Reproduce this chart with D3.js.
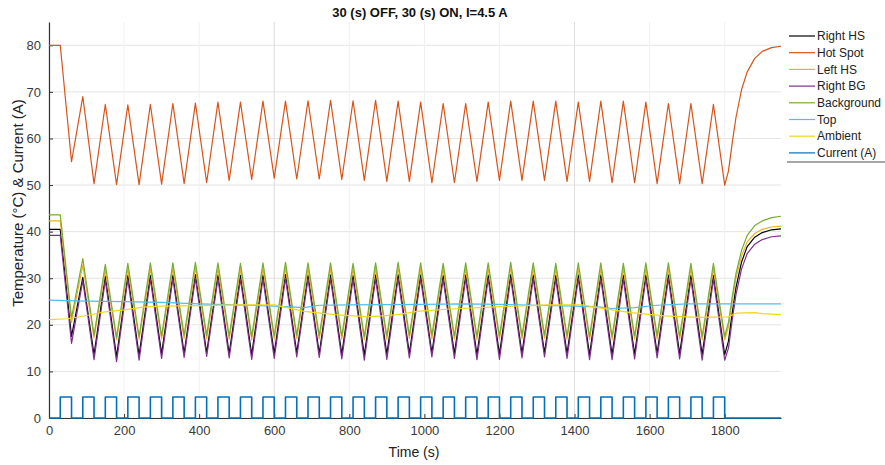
<!DOCTYPE html>
<html>
<head>
<meta charset="utf-8">
<script src="https://cdn.jsdelivr.net/npm/d3@7"></script>
<style>
  body { margin: 0; background: #fff; }
  text { font-family: "Liberation Sans", Arial, sans-serif; }
</style>
</head>
<body>
<div id="chart"></div>
<script>
// legend order / colours
var seriesNames = ["Right HS", "Hot Spot", "Left HS", "Right BG", "Background", "Top", "Ambient", "Current (A)"];
var seriesColors = ["#000000", "#D95319", "#EDB120", "#7E2F8E", "#77AC30", "#4DBEEE", "#EED81C", "#0072BD"];

// cycle times (s): troughs at the end of each ON phase, peaks at the end of each OFF phase
var troughTime = [60,120,180,240,300,360,420,480,540,600,660,720,780,840,900,960,1020,1080,1140,1200,1260,1320,1380,1440,1500,1560,1620,1680,1740,1800];
var peakTime = [90,150,210,270,330,390,450,510,570,630,690,750,810,870,930,990,1050,1110,1170,1230,1290,1350,1410,1470,1530,1590,1650,1710,1770];
var tailTime = [1810,1820,1830,1845,1860,1880,1900,1925,1950];

// start values (held until t=30)
var startVal = {"Right HS": 40.5, "Hot Spot": 80, "Left HS": 42.3, "Right BG": 39.2, "Background": 43.6};

var hotSpotTroughs = [55.0,50.3,50.1,50.1,50.2,50.3,50.5,51.0,51.2,51.5,51.3,51.3,51.2,51.0,50.8,50.8,50.5,50.5,50.8,51.0,51.0,51.0,50.8,50.8,50.5,50.5,50.3,50.3,50.3,50.0];
var hotSpotPeaks = [69.0,67.3,67.2,67.3,67.5,67.6,67.8,67.8,68.0,68.0,68.1,68.2,68.1,68.2,68.0,67.8,67.5,67.5,67.8,68.0,68.0,68.0,67.8,68.0,68.0,67.8,67.5,67.5,67.3];
var hotSpotTail = [53.0,59.0,64.5,70.5,74.3,77.2,78.7,79.5,79.8];

var backgroundTroughs = [21.5,17.8,17.3,17.5,17.6,17.8,17.8,17.6,17.5,17.6,17.8,17.7,17.6,17.5,17.6,17.8,17.8,17.6,17.5,17.6,17.7,17.8,17.6,17.5,17.5,17.6,17.7,17.6,17.5,17.5];
var backgroundPeaks = [34.2,33.0,33.2,33.3,33.3,33.4,33.3,33.2,33.3,33.4,33.3,33.3,33.2,33.3,33.4,33.3,33.2,33.3,33.3,33.4,33.3,33.2,33.3,33.3,33.2,33.3,33.3,33.2,33.2];
var backgroundTail = [20.5,26.0,31.0,36.0,39.2,41.3,42.3,43.0,43.3];

var leftHSTroughs = [20.5,17.2,16.8,16.9,17.0,17.1,17.0,16.9,16.8,17.0,17.1,17.0,16.9,16.8,16.9,17.1,17.0,16.9,16.8,16.9,17.0,17.1,16.9,16.8,16.8,16.9,17.0,16.9,16.8,16.8];
var leftHSPeaks = [32.8,31.8,32.0,32.1,32.1,32.2,32.1,32.0,32.1,32.2,32.1,32.1,32.0,32.1,32.2,32.1,32.0,32.1,32.1,32.2,32.1,32.0,32.1,32.1,32.0,32.1,32.1,32.0,32.0];
var leftHSTail = [19.5,25.0,30.0,34.8,37.8,39.6,40.5,41.0,41.2];

var rightHSTroughs = [17.5,13.6,13.2,13.5,13.8,13.9,14.0,13.8,13.6,13.8,14.0,13.9,13.7,13.5,13.7,13.9,14.0,13.8,13.6,13.7,13.9,14.0,13.8,13.6,13.6,13.7,13.9,13.8,13.6,13.6];
var rightHSPeaks = [30.2,30.4,30.6,30.6,30.7,30.8,30.7,30.6,30.7,30.8,30.7,30.7,30.6,30.7,30.8,30.7,30.6,30.7,30.7,30.8,30.7,30.6,30.7,30.7,30.6,30.7,30.7,30.6,30.6];
var rightHSTail = [16.5,22.5,28.0,33.5,36.8,38.8,39.8,40.4,40.6];

var rightBGTroughs = [16.0,12.5,12.1,12.4,12.8,13.0,13.2,12.9,12.6,12.8,13.1,13.0,12.7,12.4,12.6,12.9,13.1,12.8,12.5,12.6,12.9,13.1,12.8,12.5,12.5,12.7,12.9,12.7,12.4,12.4];
var rightBGPeaks = [29.5,29.6,29.8,29.8,29.9,30.0,29.9,29.8,29.9,30.0,29.9,29.9,29.8,29.9,30.0,29.9,29.8,29.9,29.9,30.0,29.9,29.8,29.9,29.9,29.8,29.9,29.9,29.8,29.8];
var rightBGTail = [15.0,21.0,26.5,32.0,35.3,37.3,38.3,38.9,39.1];

// slow channels, [time, value]
var topPoints = [[0,25.3],[100,25.1],[200,25.0],[300,24.8],[400,24.5],[500,24.3],[600,24.0],[680,23.7],[720,24.2],[800,24.3],[1000,24.4],[1100,24.5],[1200,24.4],[1300,24.2],[1400,24.0],[1470,23.8],[1500,23.5],[1560,23.7],[1620,24.2],[1700,24.5],[1800,24.5],[1950,24.5]];
var ambientPoints = [[0,21.1],[50,21.3],[100,22.0],[150,22.8],[200,23.2],[250,23.8],[300,24.0],[400,24.1],[500,24.3],[600,24.3],[640,23.6],[680,22.9],[760,22.2],[850,21.7],[930,22.2],[980,22.9],[1070,23.4],[1200,23.9],[1330,24.3],[1420,24.3],[1470,23.6],[1550,22.6],[1640,21.9],[1730,21.6],[1810,21.7],[1830,22.5],[1880,22.6],[1900,22.4],[1950,22.2]];

// current pulses: ON from start to start+30 s
var pulseStart = [30,90,150,210,270,330,390,450,510,570,630,690,750,810,870,930,990,1050,1110,1170,1230,1290,1350,1410,1470,1530,1590,1650,1710,1770];
var pulseLength = 30;
var currentOn = 4.5;
var currentEnd = 1950;

var xTicks = [0,200,400,600,800,1000,1200,1400,1600,1800];
var yTicks = [0,10,20,30,40,50,60,70,80];

// build oscillating series from start value, troughs, peaks and tail
function oscillating(start, troughs, peaks, tail) {
  var pts = [[0, start], [30, start]];
  troughs.forEach(function(v, i) {
    pts.push([troughTime[i], v]);
    if (i < peaks.length) pts.push([peakTime[i], peaks[i]]);
  });
  tail.forEach(function(v, i) { pts.push([tailTime[i], v]); });
  return pts;
}

var currentPoints = [[0, 0]];
pulseStart.forEach(function(t) {
  currentPoints.push([t, 0], [t, currentOn], [t + pulseLength, currentOn], [t + pulseLength, 0]);
});
currentPoints.push([currentEnd, 0]);

var seriesData = [
  oscillating(startVal["Right HS"], rightHSTroughs, rightHSPeaks, rightHSTail),
  oscillating(startVal["Hot Spot"], hotSpotTroughs, hotSpotPeaks, hotSpotTail),
  oscillating(startVal["Left HS"], leftHSTroughs, leftHSPeaks, leftHSTail),
  oscillating(startVal["Right BG"], rightBGTroughs, rightBGPeaks, rightBGTail),
  oscillating(startVal["Background"], backgroundTroughs, backgroundPeaks, backgroundTail),
  topPoints,
  ambientPoints,
  currentPoints
];

var W = 885, H = 465;
var plotLeft = 49, plotRight = 781, plotTop = 22, plotBottom = 418;

var svg = d3.select("#chart").append("svg")
    .attr("width", W)
    .attr("height", H);

var x = d3.scaleLinear().domain([0, 1950]).range([plotLeft, plotRight]);
var y = d3.scaleLinear().domain([0, 85]).range([plotBottom, plotTop]);

// grid
svg.append("g")
  .selectAll("line")
  .data(yTicks)
  .enter()
  .append("line")
    .attr("x1", plotLeft).attr("x2", plotRight)
    .attr("y1", function(d) { return y(d); })
    .attr("y2", function(d) { return y(d); })
    .attr("stroke", "#e4e4e4")
    .attr("stroke-width", 1);

svg.append("g")
  .selectAll("line")
  .data(xTicks)
  .enter()
  .append("line")
    .attr("x1", function(d) { return x(d); })
    .attr("x2", function(d) { return x(d); })
    .attr("y1", plotTop).attr("y2", plotBottom)
    .attr("stroke", function(d) { return (d === 600 || d === 1400) ? "#dcdcdc" : "#f0f0f0"; })
    .attr("stroke-width", 1);

// axes
var yAxis = svg.append("g")
    .attr("transform", "translate(" + plotLeft + ",0)")
    .call(d3.axisLeft(y).tickValues(yTicks).tickSize(-4).tickPadding(8).tickSizeOuter(0));
var xAxis = svg.append("g")
    .attr("transform", "translate(0," + plotBottom + ")")
    .call(d3.axisBottom(x).tickValues(xTicks).tickFormat(d3.format("d")).tickSize(-4).tickPadding(8).tickSizeOuter(0));

[xAxis, yAxis].forEach(function(a) {
  a.select(".domain").attr("stroke", "#333").attr("stroke-width", 1.2);
  a.selectAll(".tick line").attr("stroke", "#333");
  a.selectAll(".tick text")
    .attr("fill", "#3a3a3a")
    .style("font-size", "13px")
    .style("font-family", "'Liberation Sans', Arial, sans-serif");
});

// lines
var line = d3.line()
    .x(function(d) { return x(d[0]); })
    .y(function(d) { return y(d[1]); });

svg.append("g")
  .selectAll("path")
  .data(seriesData)
  .enter()
  .append("path")
    .attr("d", line)
    .attr("fill", "none")
    .attr("stroke", function(d, i) { return seriesColors[i]; })
    .attr("stroke-width", function(d, i) { return i === 7 ? 1.6 : 1.2; })
    .attr("stroke-linejoin", "round");

// title and labels
svg.append("text")
    .attr("x", 420).attr("y", 17)
    .attr("text-anchor", "middle")
    .style("font-size", "13px")
    .style("font-weight", "bold")
    .attr("fill", "#111")
    .text("30 (s) OFF, 30 (s) ON,  I=4.5 A");

svg.append("text")
    .attr("x", 414).attr("y", 457)
    .attr("text-anchor", "middle")
    .style("font-size", "14px")
    .attr("fill", "#222")
    .text("Time (s)");

svg.append("text")
    .attr("transform", "translate(23,203) rotate(-90)")
    .attr("text-anchor", "middle")
    .style("font-size", "15px")
    .attr("fill", "#222")
    .text("Temperature (\u00B0C) & Current (A)");

// legend
var legend = svg.append("g")
    .attr("transform", "translate(789,36)");

var rows = legend.selectAll("g")
  .data(seriesNames)
  .enter()
  .append("g")
    .attr("transform", function(d, i) { return "translate(0," + (i * 16.7) + ")"; });

rows.append("line")
    .attr("x1", 0).attr("x2", 26)
    .attr("stroke", function(d, i) { return seriesColors[i]; })
    .attr("stroke-width", 1.2);

rows.append("text")
    .attr("x", 28)
    .attr("dy", "0.35em")
    .style("font-size", "12px")
    .attr("fill", "#222")
    .text(function(d) { return d; });

svg.append("line")
    .attr("x1", 787).attr("x2", 885)
    .attr("y1", 162).attr("y2", 162)
    .attr("stroke", "#888")
    .attr("stroke-width", 1.5);
</script>
</body>
</html>
